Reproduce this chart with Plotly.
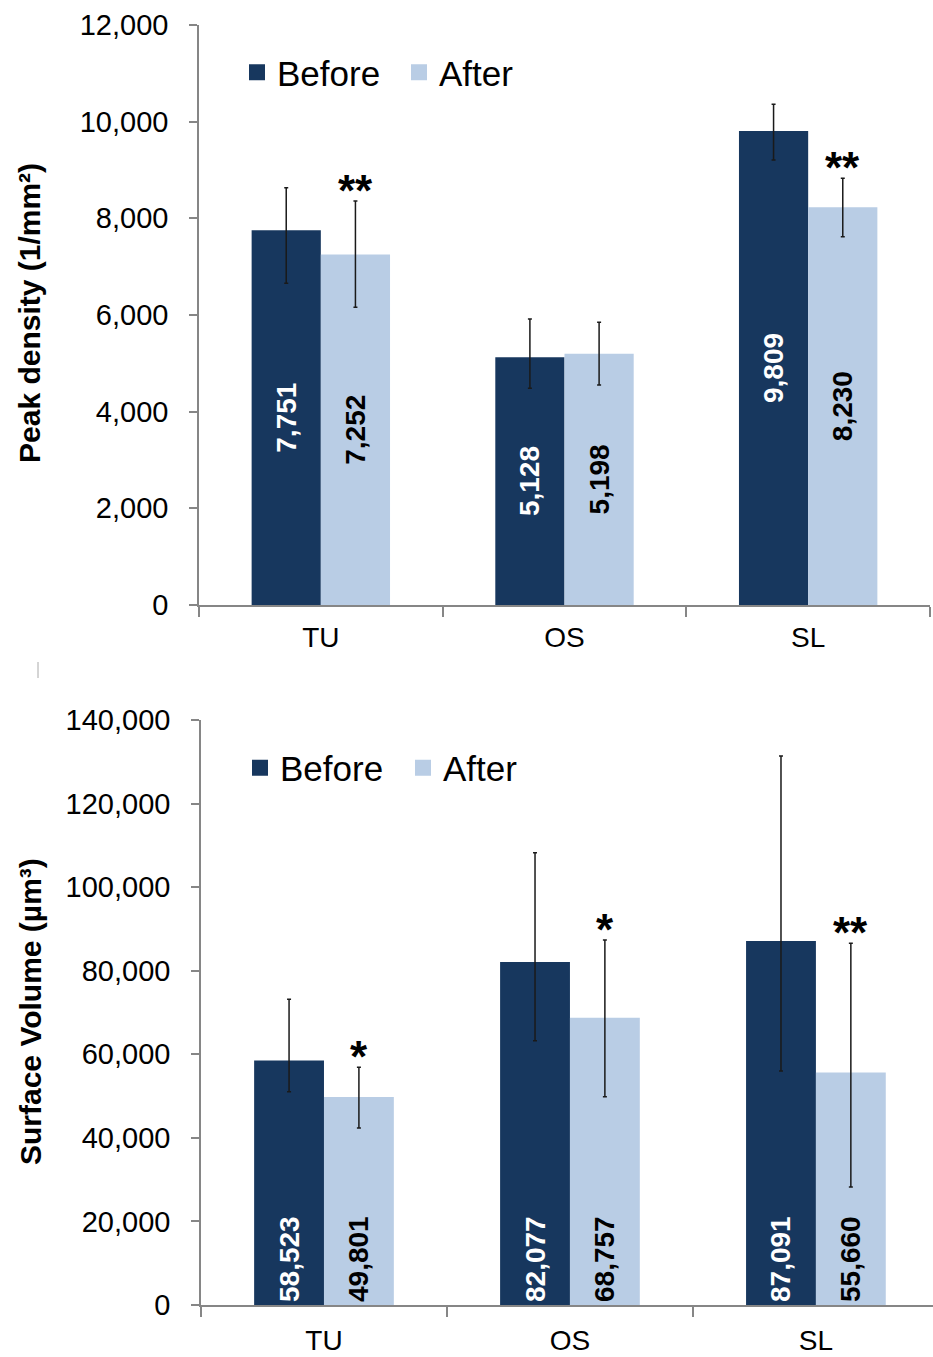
import plotly.graph_objects as go

W, H = 933, 1357

categories = ["TU", "OS", "SL"]
series_names = ["Before", "After"]

# Peak density (1/mm²)
peak_before = [7751, 5128, 9809]
peak_after = [7252, 5198, 8230]
peak_before_err_plus = [883, 789, 550]
peak_before_err_minus = [1095, 645, 602]
peak_after_err_plus = [1107, 650, 598]
peak_after_err_minus = [1093, 646, 609]
peak_after_marks = ["**", "", "**"]
peak_ticks = [0, 2000, 4000, 6000, 8000, 10000, 12000]

# Surface volume (µm³)
vol_before = [58523, 82077, 87091]
vol_after = [49801, 68757, 55660]
vol_before_err_plus = [14635, 26171, 44293]
vol_before_err_minus = [7477, 18826, 31091]
vol_after_err_plus = [7085, 18593, 30900]
vol_after_err_minus = [7443, 18907, 27421]
vol_after_marks = ["*", "*", "**"]
vol_ticks = [0, 20000, 40000, 60000, 80000, 100000, 120000, 140000]

C_BEFORE = "#17375E"
C_AFTER = "#B9CDE5"
AXIS_GREY = "#868686"
FONT = "Arial, Liberation Sans, sans-serif"
BARGAP = 0.432


def px_x(p):
    return p / W


def px_y(p):
    return 1 - p / H


def err(plus, minus):
    return dict(type="data", symmetric=False, array=plus, arrayminus=minus,
                color="#1a1a1a", thickness=1.5, width=2)


def bars(values, color, txtcolor, anchor, ep, em, xa, ya):
    return go.Bar(
        x=categories, y=values, marker=dict(color=color, line=dict(width=0)),
        texttemplate="%{y:,}", textposition="inside", textangle=-90,
        insidetextanchor=anchor, constraintext="none",
        textfont=dict(family=FONT, size=28, color=txtcolor, weight="bold"),
        error_y=err(ep, em), xaxis=xa, yaxis=ya, showlegend=False,
        hoverinfo="skip",
    )


fig = go.Figure()
fig.add_trace(bars(peak_before, C_BEFORE, "white", "middle",
                   peak_before_err_plus, peak_before_err_minus, "x", "y"))
fig.add_trace(bars(peak_after, C_AFTER, "black", "middle",
                   peak_after_err_plus, peak_after_err_minus, "x", "y"))
fig.add_trace(bars(vol_before, C_BEFORE, "white", "start",
                   vol_before_err_plus, vol_before_err_minus, "x2", "y2"))
fig.add_trace(bars(vol_after, C_AFTER, "black", "start",
                   vol_after_err_plus, vol_after_err_minus, "x2", "y2"))

# legend entries (one legend per panel)
for leg, xa, ya in (("legend", "x", "y"), ("legend2", "x2", "y2")):
    for name, col in zip(series_names, (C_BEFORE, C_AFTER)):
        fig.add_trace(go.Scatter(
            x=[None], y=[None], mode="markers", name=name,
            marker=dict(symbol="square", size=16, color=col),
            legend=leg, xaxis=xa, yaxis=ya, showlegend=True,
        ))

axis_common = dict(showline=True, linecolor=AXIS_GREY, linewidth=1.5,
                   ticks="outside", tickcolor=AXIS_GREY, tickwidth=1.5,
                   showgrid=False, zeroline=False, automargin=False)
ytick_font = dict(family=FONT, size=29, color="black")
xtick_font = dict(family=FONT, size=28, color="black")

fig.update_layout(
    width=W, height=H, margin=dict(l=0, r=0, t=0, b=0),
    paper_bgcolor="white", plot_bgcolor="white",
    barmode="group", bargap=BARGAP, bargroupgap=0,
    font=dict(family=FONT, color="black"),
    xaxis=dict(domain=[px_x(199), px_x(930)], anchor="y", type="category",
               range=[-0.5, 2.5], tickson="boundaries", ticklen=10,
               ticklabelstandoff=7, tickfont=xtick_font, **axis_common),
    yaxis=dict(domain=[px_y(605), px_y(25)], anchor="x", range=[0, 12000],
               tickvals=peak_ticks, tickformat=",", ticklen=8,
               ticklabelstandoff=15, tickfont=ytick_font, **axis_common),
    xaxis2=dict(domain=[px_x(201), 1.0], anchor="y2", type="category",
                range=[-0.5, 2.476], tickson="boundaries", ticklen=10,
                ticklabelstandoff=10, tickfont=xtick_font, **axis_common),
    yaxis2=dict(domain=[px_y(1305), px_y(720)], anchor="x2", range=[0, 140000],
                tickvals=vol_ticks, tickformat=",", ticklen=8,
                ticklabelstandoff=15, tickfont=ytick_font, **axis_common),
    legend=dict(orientation="h", x=px_x(237), y=px_y(72.5), xanchor="left",
                yanchor="middle", font=dict(family=FONT, size=35),
                entrywidth=117, bgcolor="rgba(0,0,0,0)"),
    legend2=dict(orientation="h", x=px_x(240), y=px_y(768), xanchor="left",
                 yanchor="middle", font=dict(family=FONT, size=35),
                 entrywidth=118, bgcolor="rgba(0,0,0,0)"),
)

# axis titles
title_font = dict(family=FONT, size=30, weight="bold")
fig.add_annotation(text="Peak density (1/mm²)", xref="paper", yref="paper",
                   x=px_x(30), y=px_y(313), xanchor="center", yanchor="middle",
                   textangle=-90, showarrow=False, font=title_font)
fig.add_annotation(text="Surface Volume (µm³)", xref="paper", yref="paper",
                   x=px_x(30), y=px_y(1012), xanchor="center", yanchor="middle",
                   textangle=-90, showarrow=False, font=title_font)

# significance marks above the "After" bars
after_offset = (1 - BARGAP) / 4
mark_font = dict(family=FONT, size=44, weight="bold")
for i, m in enumerate(peak_after_marks):
    if m:
        fig.add_annotation(text=m, x=i + after_offset, xref="x", yref="y",
                           y=peak_after[i] + peak_after_err_plus[i],
                           yanchor="bottom", yshift=-16, showarrow=False,
                           font=mark_font)
for i, m in enumerate(vol_after_marks):
    if m:
        fig.add_annotation(text=m, x=i + after_offset, xref="x2", yref="y2",
                           y=vol_after[i] + vol_after_err_plus[i],
                           yanchor="bottom", yshift=-16, showarrow=False,
                           font=mark_font)

# small stray tick between the panels
fig.add_shape(type="line", xref="paper", yref="paper",
              x0=px_x(38), x1=px_x(38), y0=px_y(662), y1=px_y(678),
              line=dict(color="#aaaaaa", width=1))

fig.write_html("out.html")
